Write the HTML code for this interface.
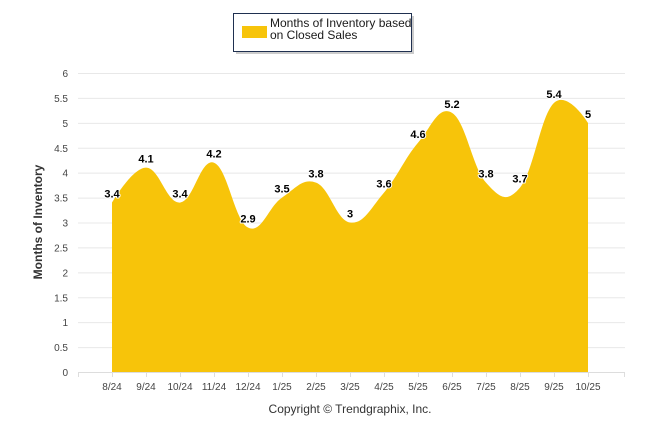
<!DOCTYPE html>
<html><head><meta charset="utf-8"><style>
body{margin:0;background:#fff;font-family:"Liberation Sans",Arial,sans-serif}
</style></head><body>
<svg id="c" width="646" height="434" xmlns="http://www.w3.org/2000/svg" font-family="Liberation Sans, Arial, sans-serif">
<g>
<rect x="236" y="16" width="178" height="38" fill="#999" opacity="0.5"/>
<rect x="233.5" y="13.5" width="178" height="38" fill="#fff" stroke="#1f3050" stroke-width="1"/>
<rect x="242" y="26" width="25" height="12" fill="#f7c40a"/>
<text x="270" y="27" font-size="12" fill="#1a1a1a"><tspan x="270">Months of Inventory based</tspan><tspan x="270" dy="12">on Closed Sales</tspan></text>
</g>
<text transform="translate(42,222) rotate(-90)" text-anchor="middle" font-size="12" font-weight="bold" fill="#333">Months of Inventory</text>
<text x="350" y="413" text-anchor="middle" font-size="12" fill="#333">Copyright © Trendgraphix, Inc.</text>
<g id="grid"></g><g id="area"></g><g id="xa"></g><g id="labels"></g>
</svg>
<script>
const categories=["8/24","9/24","10/24","11/24","12/24","1/25","2/25","3/25","4/25","5/25","6/25","7/25","8/25","9/25","10/25"];
const values=[3.4,4.1,3.4,4.2,2.9,3.5,3.8,3,3.6,4.6,5.2,3.8,3.7,5.4,5];
const yTicks=[0,0.5,1,1.5,2,2.5,3,3.5,4,4.5,5,5.5,6];
const NS="http://www.w3.org/2000/svg";
const L=78,R=625,T=73,B=372,yMax=6;
const xs=i=>L+34*(i+1);
const ys=v=>B-(v/yMax)*(B-T);
function mk(t,a,p){const e=document.createElementNS(NS,t);for(const k in a)e.setAttribute(k,a[k]);p.appendChild(e);return e;}
const grid=document.getElementById('grid');
yTicks.forEach(v=>{
 const l=mk('line',{x1:L,x2:R,y1:ys(v)+0.5,y2:ys(v)+0.5,stroke:'#e8e8e8','stroke-width':1},grid);
 
 
 const t=mk('text',{x:68,y:ys(v)+4,'text-anchor':'end','font-size':10,fill:'#444'},grid);
 t.textContent=v;
 
 
});
const xa=document.getElementById('xa');
mk('line',{x1:L,x2:R,y1:B+0.5,y2:B+0.5,stroke:'#ddd'},xa);
mk('line',{x1:L+0.5,x2:L+0.5,y1:B,y2:B+5,stroke:'#ddd'},xa);
mk('line',{x1:R-0.5,x2:R-0.5,y1:B,y2:B+5,stroke:'#ddd'},xa);
categories.forEach((c,i)=>{
 mk('line',{x1:xs(i)+0.5,x2:xs(i)+0.5,y1:B,y2:B+5,stroke:'#ddd'},xa);
 const t=mk('text',{x:xs(i),y:B+18,'text-anchor':'middle','font-size':10,fill:'#444'},xa);
 t.textContent=c;
 
 
});
const pts=values.map((v,i)=>({x:xs(i),y:ys(v)}));
const ctrl=pts.map((p,i)=>{
 if(i===0||i===pts.length-1)return{lx:p.x,ly:p.y,rx:p.x,ry:p.y};
 const a=pts[i-1],b=pts[i+1],s=1.5,d=2.5;
 let lx=(s*p.x+a.x)/d,ly=(s*p.y+a.y)/d,rx=(s*p.x+b.x)/d,ry=(s*p.y+b.y)/d;
 const corr=((ry-ly)*(rx-p.x))/(rx-lx)+p.y-ry;ly+=corr;ry+=corr;
 return{lx,ly,rx,ry};
});
let d=`M${pts[0].x},${B} L${pts[0].x},${pts[0].y}`;
for(let i=1;i<pts.length;i++){d+=` C${ctrl[i-1].rx},${ctrl[i-1].ry} ${ctrl[i].lx},${ctrl[i].ly} ${pts[i].x},${pts[i].y}`;}
d+=` L${pts[pts.length-1].x},${B} Z`;
const area=mk('path',{d:d,fill:'#f7c40a'},document.getElementById('area'));


const lab=document.getElementById('labels');
values.forEach((v,i)=>{
 const t=mk('text',{x:xs(i),y:ys(v)-5,'text-anchor':'middle','font-size':11,'font-weight':'bold',fill:'#000',stroke:'#fff','stroke-width':2,'paint-order':'stroke','stroke-linejoin':'round'},lab);
 t.textContent=v;
 
 
});
</script>
</body></html>
